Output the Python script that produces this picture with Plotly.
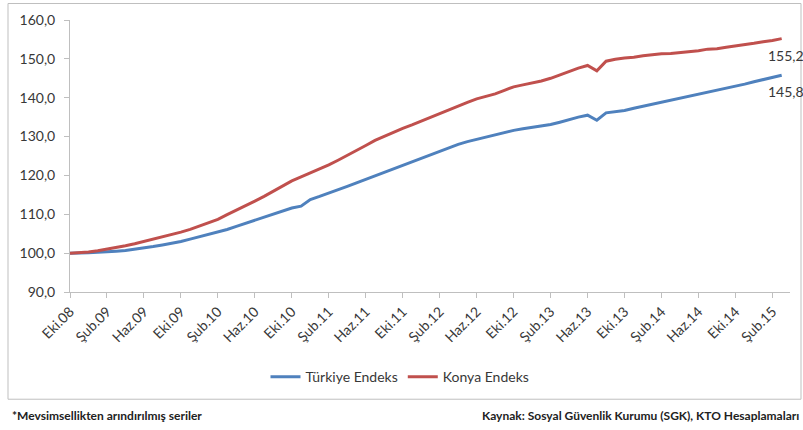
import plotly.graph_objects as go

# Turkish month abbreviations, series start Oct 2008, monthly
MONTHS_TR = ["Oca", "Şub", "Mar", "Nis", "May", "Haz",
             "Tem", "Ağu", "Eyl", "Eki", "Kas", "Ara"]
START_YEAR, START_MONTH, N_POINTS = 2008, 10, 78

periods = []
for k in range(N_POINTS):
    m = (START_MONTH - 1 + k) % 12
    y = START_YEAR + (START_MONTH - 1 + k) // 12
    periods.append(f"{MONTHS_TR[m]}.{y % 100:02d}")

# Seasonally adjusted employment index (Oct 2008 = 100)
turkiye = [
    100.0, 100.0, 100.1, 100.2, 100.3, 100.5, 100.7, 101.0, 101.3, 101.7,
    102.1, 102.5, 103.0, 103.6, 104.2, 104.8, 105.4, 106.1, 106.9, 107.7,
    108.5, 109.3, 110.1, 110.9, 111.6, 112.1, 113.8, 114.6, 115.4, 116.3,
    117.2, 118.1, 119.0, 119.9, 120.8, 121.7, 122.6, 123.6, 124.5, 125.5,
    126.4, 127.2, 128.0, 128.7, 129.3, 129.9, 130.5, 131.1, 131.6, 132.0,
    132.4, 132.7, 133.1, 133.7, 134.4, 135.0, 135.5, 134.2, 136.1, 136.4,
    136.7, 137.3, 137.8, 138.3, 138.9, 139.3, 139.8, 140.3, 140.8, 141.3,
    141.8, 142.4, 142.9, 143.5, 144.1, 144.7, 145.3, 145.8,
]
konya = [
    100.0, 100.1, 100.3, 100.6, 101.0, 101.4, 101.9, 102.4, 103.0, 103.6,
    104.1, 104.7, 105.4, 106.1, 106.9, 107.8, 108.7, 109.9, 111.0, 112.2,
    113.4, 114.6, 115.9, 117.3, 118.6, 119.6, 120.6, 121.6, 122.7, 123.9,
    125.1, 126.4, 127.7, 129.0, 130.1, 131.1, 132.1, 133.0, 134.0, 134.9,
    135.9, 136.9, 137.9, 138.8, 139.7, 140.3, 141.0, 141.9, 142.8, 143.3,
    143.8, 144.3, 145.0, 145.9, 146.8, 147.6, 148.3, 146.9, 149.4, 149.9,
    150.2, 150.4, 150.8, 151.1, 151.3, 151.4, 151.6, 151.9, 152.1, 152.5,
    152.6, 153.0, 153.4, 153.7, 154.0, 154.4, 154.7, 155.2,
]

BLUE = "#4F81BD"
RED = "#C0504D"
TXT = "#383838"
GRID = "#BFBFBF"
FONT = "Lato"

idx = list(range(N_POINTS))

fig = go.Figure()
fig.add_trace(go.Scatter(x=idx, y=turkiye, mode="lines", name="Türkiye Endeks",
                         line=dict(color=BLUE, width=3)))
fig.add_trace(go.Scatter(x=idx, y=konya, mode="lines", name="Konya Endeks",
                         line=dict(color=RED, width=3)))

# end-of-series value labels
for series in (konya, turkiye):
    last = series[-1]
    fig.add_annotation(x=idx[-1], y=last, text=f"{last:.1f}".replace(".", ","),
                       showarrow=False, xanchor="left", yanchor="top",
                       xshift=-16, yshift=-6,
                       font=dict(family=FONT, size=14, color=TXT))

L, R, T, B = 70, 13, 19.5, 138.3
W, H = 803, 430
pw, ph = W - L - R, H - T - B


def px(xp):
    return (xp - L) / pw


def py(yp):
    return (H - B - yp) / ph


# outer chart frame
fig.add_shape(type="rect", xref="paper", yref="paper",
              x0=px(8), x1=px(801), y0=py(399), y1=py(3),
              line=dict(color=GRID, width=1), fillcolor="rgba(0,0,0,0)")

# footer notes
fig.add_annotation(xref="paper", yref="paper", x=px(10), y=py(415),
                   text="<b>*Mevsimsellikten arındırılmış seriler</b>",
                   showarrow=False, xanchor="left", yanchor="middle",
                   font=dict(family=FONT, size=12, color="#222222"))
fig.add_annotation(xref="paper", yref="paper", x=px(801), y=py(415),
                   text="<b>Kaynak: Sosyal Güvenlik Kurumu (SGK), KTO Hesaplamaları</b>",
                   showarrow=False, xanchor="right", yanchor="middle",
                   font=dict(family=FONT, size=12, color="#222222"))

fig.update_layout(
    width=W, height=H,
    margin=dict(l=L, r=R, t=T, b=B),
    paper_bgcolor="white", plot_bgcolor="white",
    separators=",.",
    showlegend=True,
    legend=dict(orientation="h", x=px(400), xanchor="center",
                y=py(377), yanchor="middle",
                font=dict(family=FONT, size=14, color=TXT),
                bgcolor="rgba(0,0,0,0)"),
    font=dict(family=FONT, color=TXT),
)
fig.update_xaxes(
    range=[0, 77.9], showgrid=False, zeroline=False,
    showline=True, linecolor=GRID, linewidth=1,
    tickmode="array", tickvals=idx[::4], ticktext=periods[::4],
    ticks="outside", ticklen=5, tickcolor=GRID,
    tickangle=-45, tickfont=dict(family=FONT, size=14, color=TXT),
)
fig.update_yaxes(
    range=[90, 160], dtick=10, tickformat=".1f",
    showgrid=False, zeroline=False,
    showline=True, linecolor=GRID, linewidth=1,
    ticks="outside", ticklen=5, tickcolor=GRID, ticklabelstandoff=6,
    tickfont=dict(family=FONT, size=14, color=TXT),
)

fig.write_html("out.html")
